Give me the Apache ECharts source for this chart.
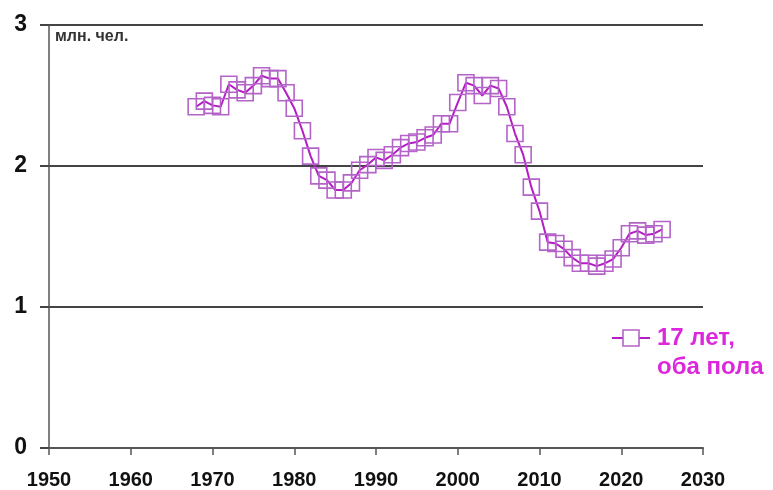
<!DOCTYPE html>
<html><head><meta charset="utf-8">
<script src="https://cdn.jsdelivr.net/npm/echarts@6/dist/echarts.min.js"></script>
<style>html,body{margin:0;padding:0;background:#fff}#c{width:773px;height:490px}</style>
</head><body><div id="c"></div>
<script>
const years = [1968,1969,1970,1971,1972,1973,1974,1975,1976,1977,1978,1979,1980,1981,1982,1983,1984,1985,1986,1987,1988,1989,1990,1991,1992,1993,1994,1995,1996,1997,1998,1999,2000,2001,2002,2003,2004,2005,2006,2007,2008,2009,2010,2011,2012,2013,2014,2015,2016,2017,2018,2019,2020,2021,2022,2023,2024,2025];
const values = [2.42,2.46,2.43,2.42,2.58,2.54,2.52,2.57,2.64,2.62,2.62,2.52,2.41,2.25,2.07,1.93,1.90,1.83,1.83,1.88,1.97,2.01,2.06,2.04,2.08,2.13,2.16,2.17,2.20,2.22,2.30,2.30,2.45,2.59,2.57,2.50,2.57,2.55,2.42,2.23,2.08,1.85,1.68,1.46,1.45,1.41,1.35,1.31,1.31,1.29,1.31,1.34,1.42,1.52,1.54,1.51,1.52,1.55];
const seriesName = '17 лет, оба пола';
const legendText = '17 лет,\nоба пола';
const unitLabel = 'млн. чел.';

const chart = echarts.init(document.getElementById('c'));
const font = '"Liberation Sans", Arial, sans-serif';
chart.setOption({
  animation: false,
  backgroundColor: '#fff',
  grid: {left: 49, right: 70, top: 25, bottom: 42},
  xAxis: {
    type: 'value', min: 1950, max: 2030, interval: 10,
    axisLine: {show: true, lineStyle: {color: '#555', width: 2}},
    axisTick: {show: true, length: 7, lineStyle: {color: '#555', width: 1.5}},
    splitLine: {show: false},
    axisLabel: {color: '#111', fontFamily: font, fontWeight: 'bold', fontSize: 20, margin: 22, formatter: v => String(v)}
  },
  yAxis: {
    type: 'value', min: 0, max: 3, interval: 1,
    axisLine: {show: true, lineStyle: {color: '#555', width: 1.5}},
    axisTick: {show: true, length: 9, lineStyle: {color: '#444', width: 2}},
    splitLine: {show: true, lineStyle: {color: '#444', width: 2}},
    axisLabel: {color: '#111', fontFamily: font, fontWeight: 'bold', fontSize: 23, margin: 22}
  },
  series: [{
    name: seriesName,
    type: 'line',
    data: years.map((y, i) => [y, values[i]]),
    symbol: 'rect', symbolSize: 16,
    lineStyle: {color: '#b41cc4', width: 2},
    itemStyle: {color: 'rgba(255,255,255,0)', borderColor: '#b464c8', borderWidth: 1.6}
  }],
  graphic: [
    {type: 'text', left: 55, top: 29, style: {text: unitLabel, font: 'bold 16px ' + font, fill: '#333'}},
    {type: 'line', shape: {x1: 612, y1: 338, x2: 650, y2: 338}, style: {stroke: '#b41cc4', lineWidth: 2}},
    {type: 'rect', shape: {x: 623, y: 330, width: 16, height: 16}, style: {fill: '#fff', stroke: '#b464c8', lineWidth: 1.6}},
    {type: 'text', left: 657, top: 324, style: {text: legendText, font: 'bold 24px ' + font, fill: '#dc28dc', lineHeight: 29}}
  ]
});
</script></body></html>
